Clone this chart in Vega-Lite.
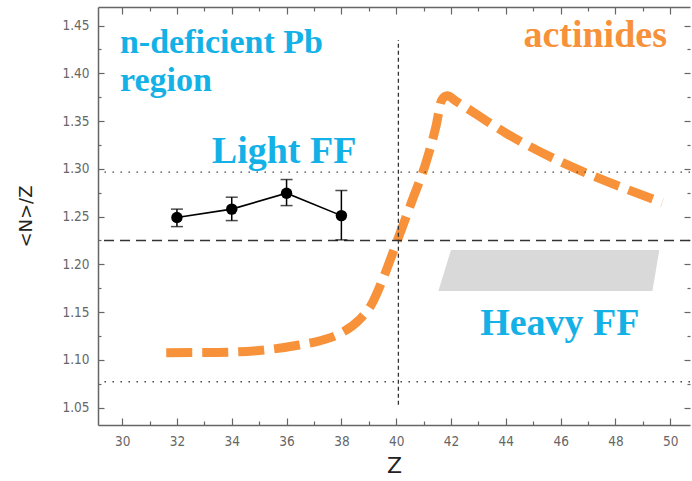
{
  "$schema": "https://vega.github.io/schema/vega-lite/v6.json",
  "width": 592,
  "height": 418,
  "autosize": {"type": "none"},
  "padding": {"left": 98, "top": 7, "right": 2, "bottom": 56},
  "background": "white",
  "config": {
    "view": {"stroke": null},
    "axis": {
      "grid": false,
      "domainColor": "#666",
      "tickColor": "#666",
      "domainWidth": 1.5,
      "tickWidth": 1.2,
      "labelFont": "DejaVu Sans Condensed",
      "labelColor": "#666",
      "labelFontSize": 13.5,
      "titleFont": "DejaVu Sans",
      "titleColor": "#222",
      "titleFontWeight": "normal"
    }
  },
  "datasets": {
    "curve": [
      {"Z": 31.61, "v": 1.1074},
      {"Z": 33.0, "v": 1.1077},
      {"Z": 33.91, "v": 1.108},
      {"Z": 35.36, "v": 1.1108},
      {"Z": 36.46, "v": 1.1155},
      {"Z": 37.19, "v": 1.1197},
      {"Z": 37.92, "v": 1.127},
      {"Z": 38.65, "v": 1.1417},
      {"Z": 39.1, "v": 1.158},
      {"Z": 39.5, "v": 1.1836},
      {"Z": 40.05, "v": 1.2256},
      {"Z": 40.59, "v": 1.2675},
      {"Z": 41.08, "v": 1.306},
      {"Z": 41.45, "v": 1.3443},
      {"Z": 41.66, "v": 1.372},
      {"Z": 41.86, "v": 1.3765},
      {"Z": 42.2, "v": 1.3705},
      {"Z": 44.0, "v": 1.3375},
      {"Z": 49.71, "v": 1.2647}
    ],
    "pts": [
      {"Z": 32, "v": 1.249, "lo": 1.2395, "hi": 1.2578},
      {"Z": 34, "v": 1.2578, "lo": 1.2458, "hi": 1.2703},
      {"Z": 36, "v": 1.2745, "lo": 1.2615, "hi": 1.2888},
      {"Z": 38, "v": 1.251, "lo": 1.2256, "hi": 1.2773}
    ],
    "para": [
      {"v": 1.1721, "zl": 41.54, "zr": 49.35},
      {"v": 1.2151, "zl": 42.0, "zr": 49.6}
    ],
    "dotted": [{"v": 1.2965}, {"v": 1.077}],
    "dashed": [{"v": 1.225}],
    "vline": [{"Z": 40.08, "v1": 1.053, "v2": 1.435}],
    "labels": [
      {"t": "n-deficient Pb", "Z": 29.92, "v": 1.4211, "c": "blue", "al": "left"},
      {"t": "region", "Z": 29.92, "v": 1.3818, "c": "blue", "al": "left"},
      {"t": "Light FF", "Z": 35.91, "v": 1.3063, "c": "blue", "al": "center"},
      {"t": "actinides", "Z": 47.26, "v": 1.4279, "c": "orange", "al": "center"},
      {"t": "Heavy FF", "Z": 45.97, "v": 1.126, "c": "blue", "al": "center"}
    ]
  },
  "resolve": {"axis": {"x": "independent", "y": "independent"}},
  "layer": [
    {
      "data": {"name": "para"},
      "mark": {"type": "area", "orient": "horizontal", "color": "#d9d9d9"},
      "encoding": {
        "y": {"field": "v", "type": "quantitative",
          "axis": {"orient": "left", "values": [1.075, 1.125, 1.175, 1.225, 1.275, 1.325, 1.375, 1.425], "labels": false, "domain": false, "tickSize": -3, "title": null}},
        "x": {"field": "zl", "type": "quantitative",
          "axis": {"orient": "bottom", "values": [31, 33, 35, 37, 39, 41, 43, 45, 47, 49], "labels": false, "domain": false, "tickSize": -4, "title": null}},
        "x2": {"field": "zr"}
      }
    },
    {
      "data": {"name": "curve"},
      "mark": {"type": "line", "color": "#F7923A", "strokeWidth": 9, "strokeDash": [26, 10], "strokeCap": "butt", "interpolate": "monotone"},
      "encoding": {
        "x": {"field": "Z", "type": "quantitative",
          "scale": {"domain": [29.12, 50.72], "nice": false, "zero": false},
          "axis": {"orient": "bottom", "values": [30, 32, 34, 36, 38, 40, 42, 44, 46, 48, 50], "tickSize": -7, "labelPadding": 16, "title": "Z", "titleFontSize": 22, "titlePadding": 8}},
        "y": {"field": "v", "type": "quantitative",
          "scale": {"domain": [1.0317, 1.4695], "nice": false, "zero": false},
          "axis": {"orient": "left", "values": [1.05, 1.1, 1.15, 1.2, 1.25, 1.3, 1.35, 1.4, 1.45], "format": ".2f", "tickSize": -6, "labelPadding": 15, "title": "<N>/Z", "titleFontSize": 18, "titlePadding": 26}}
      }
    },
    {
      "data": {"name": "dotted"},
      "mark": {"type": "rule", "color": "#444", "strokeWidth": 1.3, "strokeDash": [1.5, 6.5]},
      "encoding": {
        "y": {"field": "v", "type": "quantitative",
          "axis": {"orient": "right", "values": [1.05, 1.1, 1.15, 1.2, 1.25, 1.3, 1.35, 1.4, 1.45], "labels": false, "domain": false, "tickSize": -6, "title": null}}
      }
    },
    {
      "data": {"name": "dashed"},
      "mark": {"type": "rule", "color": "#333", "strokeWidth": 1.5, "strokeDash": [10, 6]},
      "encoding": {
        "y": {"field": "v", "type": "quantitative",
          "axis": {"orient": "right", "values": [1.075, 1.125, 1.175, 1.225, 1.275, 1.325, 1.375, 1.425], "labels": false, "domain": false, "tickSize": -3, "title": null}}
      }
    },
    {
      "data": {"name": "vline"},
      "mark": {"type": "rule", "color": "#333", "strokeWidth": 1.3, "strokeDash": [4, 3]},
      "encoding": {
        "x": {"field": "Z", "type": "quantitative",
          "axis": {"orient": "top", "values": [30, 32, 34, 36, 38, 40, 42, 44, 46, 48, 50], "labels": false, "tickSize": -7, "title": null}},
        "y": {"field": "v1", "type": "quantitative", "axis": null},
        "y2": {"field": "v2"}
      }
    },
    {
      "data": {"name": "pts"},
      "mark": {"type": "rule", "color": "black", "strokeWidth": 1.5},
      "encoding": {
        "x": {"field": "Z", "type": "quantitative",
          "axis": {"orient": "top", "values": [31, 33, 35, 37, 39, 41, 43, 45, 47, 49], "labels": false, "domain": false, "tickSize": -4, "title": null}},
        "y": {"field": "lo", "type": "quantitative", "axis": null},
        "y2": {"field": "hi"}
      }
    },
    {
      "data": {"name": "pts"},
      "mark": {"type": "tick", "orient": "horizontal", "size": 12, "thickness": 1.5, "color": "black"},
      "encoding": {
        "x": {"field": "Z", "type": "quantitative", "axis": null},
        "y": {"field": "lo", "type": "quantitative", "axis": null}
      }
    },
    {
      "data": {"name": "pts"},
      "mark": {"type": "tick", "orient": "horizontal", "size": 12, "thickness": 1.5, "color": "black"},
      "encoding": {
        "x": {"field": "Z", "type": "quantitative", "axis": null},
        "y": {"field": "hi", "type": "quantitative", "axis": null}
      }
    },
    {
      "data": {"name": "pts"},
      "mark": {"type": "line", "color": "black", "strokeWidth": 1.6},
      "encoding": {
        "x": {"field": "Z", "type": "quantitative", "axis": null},
        "y": {"field": "v", "type": "quantitative", "axis": null}
      }
    },
    {
      "data": {"name": "pts"},
      "mark": {"type": "circle", "size": 130, "color": "black", "opacity": 1},
      "encoding": {
        "x": {"field": "Z", "type": "quantitative", "axis": null},
        "y": {"field": "v", "type": "quantitative", "axis": null}
      }
    },
    {
      "data": {"name": "labels"},
      "transform": [{"filter": "datum.al === 'left'"}],
      "mark": {"type": "text", "align": "left", "baseline": "alphabetic", "font": "Liberation Serif", "fontWeight": "bold", "fontSize": 34},
      "encoding": {
        "x": {"field": "Z", "type": "quantitative", "axis": null},
        "y": {"field": "v", "type": "quantitative", "axis": null},
        "text": {"field": "t"},
        "color": {"field": "c", "type": "nominal", "scale": {"domain": ["blue", "orange"], "range": ["#14B1E7", "#F7923A"]}, "legend": null}
      }
    },
    {
      "data": {"name": "labels"},
      "transform": [{"filter": "datum.al === 'center'"}],
      "mark": {"type": "text", "align": "center", "baseline": "alphabetic", "font": "Liberation Serif", "fontWeight": "bold", "fontSize": 38},
      "encoding": {
        "x": {"field": "Z", "type": "quantitative", "axis": null},
        "y": {"field": "v", "type": "quantitative", "axis": null},
        "text": {"field": "t"},
        "color": {"field": "c", "type": "nominal", "scale": {"domain": ["blue", "orange"], "range": ["#14B1E7", "#F7923A"]}, "legend": null}
      }
    }
  ]
}
